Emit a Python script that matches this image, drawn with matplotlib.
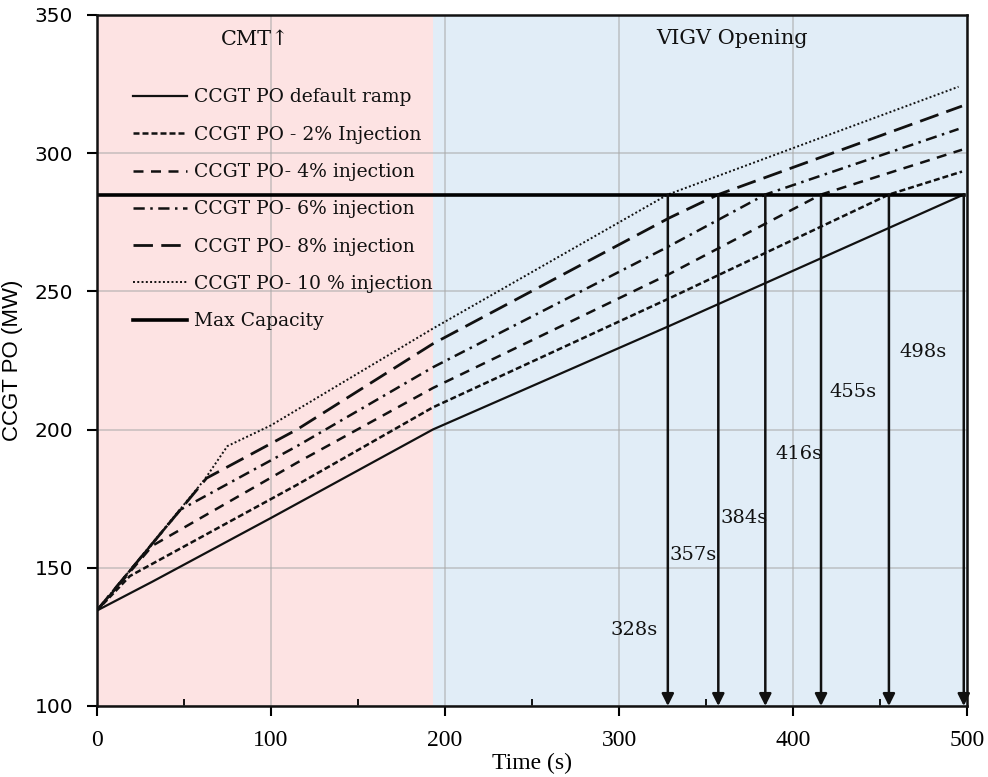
import numpy as np
import matplotlib
matplotlib.use("Agg")
import matplotlib.pyplot as plt
from matplotlib.ticker import MultipleLocator

# data
t_default = [0, 32, 100, 193, 329, 498]
p_default = [134.5, 145, 168, 200, 237.5, 285]

t_2 = [0, 19, 115, 193, 329, 455, 497]
p_2 = [134.5, 147, 180, 208, 247.5, 285, 293.3]

t_4 = [0, 32, 115, 193, 329, 416, 497]
p_4 = [134.5, 158, 188, 215, 256.3, 285, 301.2]

t_6 = [0, 48, 115, 193, 329, 384, 495]
p_6 = [134.5, 171, 194, 222.5, 266.4, 285, 308.7]

t_8 = [0, 63, 115, 193, 329, 357, 497]
p_8 = [134.5, 182.4, 200, 231, 276.6, 285, 317]

t_10 = [0, 62, 75, 100, 193, 328, 495]
p_10 = [134.5, 182, 194, 201.5, 236.5, 285, 324]

max_cap = 285
max_t = [0, 498]
cross_t = [328, 357, 384, 416, 455, 498]
cross_lbl = ["328s", "357s", "384s", "416s", "455s", "498s"]
lbl_x = [295, 329, 358, 390, 421, 461]
lbl_y = [127.5, 154.5, 168, 191, 213.5, 228]

cmt_end = 193

fig = plt.figure(figsize=(9.88, 7.77), dpi=100)
ax = fig.add_axes([0.098, 0.0914, 0.881, 0.8895])

ax.axvspan(0, cmt_end, color="#fde3e3", zorder=0, lw=0)
ax.axvspan(cmt_end, 500, color="#e1edf7", zorder=0, lw=0)

ax.plot(t_default, p_default, color="#111111", lw=1.6, label="CCGT PO default ramp")
ax.plot(t_2, p_2, color="#111111", lw=1.8, dashes=(2.4, 1.2), label="CCGT PO - 2% Injection")
ax.plot(t_4, p_4, color="#111111", lw=1.8, dashes=(4, 3), label="CCGT PO- 4% injection")
ax.plot(t_6, p_6, color="#111111", lw=1.8, dashes=(4.5, 2.2, 1, 2.2), label="CCGT PO- 6% injection")
ax.plot(t_8, p_8, color="#111111", lw=2.0, dashes=(7, 3), label="CCGT PO- 8% injection")
ax.plot(t_10, p_10, color="#111111", lw=1.4, dashes=(1, 1.2), label="CCGT PO- 10 % injection")
ax.plot(max_t, [max_cap, max_cap], color="black", lw=2.6, label="Max Capacity")

for t in cross_t:
    ax.annotate("", xy=(t, 100), xytext=(t, max_cap),
                arrowprops=dict(arrowstyle="-|>", color="#111111", lw=1.8,
                                mutation_scale=18, shrinkA=0, shrinkB=0))

for x, y, s in zip(lbl_x, lbl_y, cross_lbl):
    ax.text(x, y, s, ha="left", va="center", fontsize=14, family="DejaVu Serif", color="#111111")

ax.text(91, 341, "CMT\u2191", ha="center", va="center", fontsize=15,
        family=["DejaVu Serif", "DejaVu Sans"], color="#111111")
ax.text(365, 341.5, "VIGV Opening", ha="center", va="center", fontsize=15,
        family="DejaVu Serif", color="#111111")

leg = ax.legend(loc="upper left", bbox_to_anchor=(0.041, 0.8935), frameon=False,
                prop={"family": "DejaVu Serif", "size": 13.5}, handlelength=2.9,
                handletextpad=0.4, labelspacing=1.03, borderpad=0, borderaxespad=0)
for txt in leg.get_texts():
    txt.set_color("#111111")

ax.set_xlim(0, 500)
ax.set_ylim(100, 350)
ax.xaxis.set_major_locator(MultipleLocator(100))
ax.xaxis.set_minor_locator(MultipleLocator(50))
ax.yaxis.set_major_locator(MultipleLocator(50))

ax.grid(True, which="major", color="#a8a8a8", alpha=0.55, lw=1.3)
ax.set_axisbelow(True)

ax.tick_params(axis="x", which="major", direction="out", length=7, width=1.5, pad=10)
ax.tick_params(axis="x", which="minor", direction="in", length=5, width=1.3)
ax.tick_params(axis="y", which="major", direction="out", length=7, width=1.5, pad=10)
for lab in ax.get_xticklabels():
    lab.set_fontfamily("Liberation Serif")
    lab.set_fontsize(17)
for lab in ax.get_yticklabels():
    lab.set_fontfamily("DejaVu Sans")
    lab.set_fontsize(14.5)

for sp in ax.spines.values():
    sp.set_linewidth(1.8)
    sp.set_color("#111111")

ax.set_xlabel("Time (s)", family="Liberation Serif", fontsize=17, labelpad=2)
ax.set_ylabel("CCGT PO (MW)", family="Liberation Sans", fontsize=16, labelpad=8)

fig.savefig("out.png", dpi=100)
